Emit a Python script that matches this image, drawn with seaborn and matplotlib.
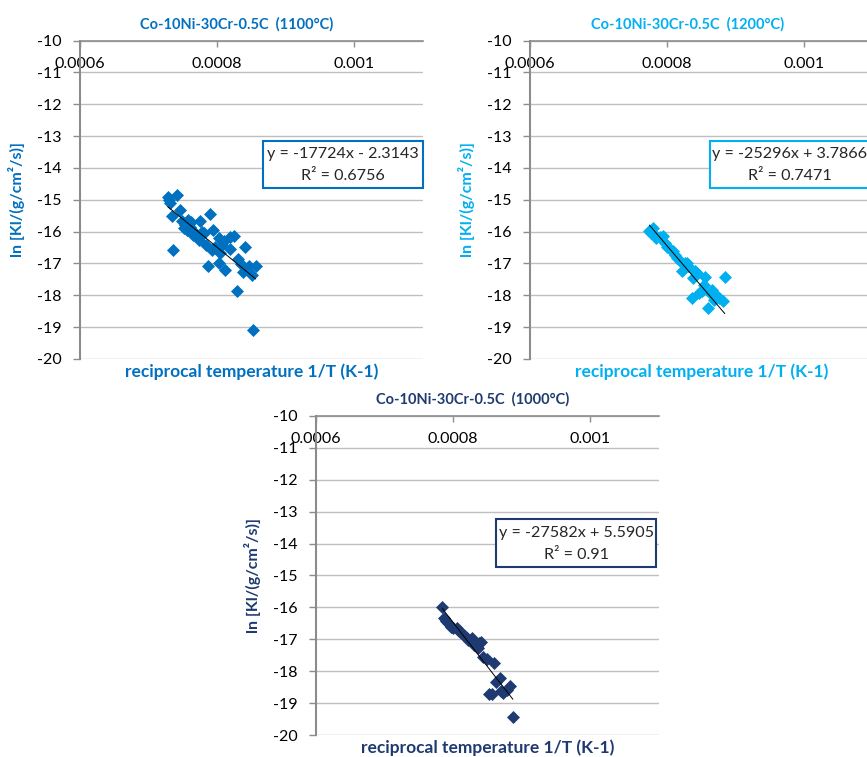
import numpy as np
import pandas as pd
import matplotlib.pyplot as plt
from matplotlib.patches import Rectangle
import seaborn as sns

#%% data (1/T in K-1, ln KI)
x_1100 = [0.000728, 0.000731, 0.000741, 0.000734, 0.000746, 0.000736, 0.000748, 0.000751,
          0.000753, 0.000758, 0.000762, 0.000756, 0.000765, 0.000770, 0.000775, 0.000778,
          0.000773, 0.000781, 0.000789, 0.000784, 0.000786, 0.000792, 0.000794, 0.000797,
          0.000802, 0.000804, 0.000802, 0.000807, 0.000812, 0.000818, 0.000824, 0.000819,
          0.000829, 0.000831, 0.000835, 0.000841, 0.000837, 0.000846, 0.000851, 0.000856,
          0.000852, 0.000730, 0.000760, 0.000768, 0.000810]
y_1100 = [-14.90, -15.10, -14.84, -15.50, -15.31, -16.59, -15.68, -15.89,
          -15.78, -15.63, -15.71, -15.95, -16.10, -16.15, -15.68, -16.00,
          -16.25, -16.05, -15.44, -16.41, -17.07, -16.57, -15.95, -16.47,
          -16.20, -16.67, -16.99, -16.41, -17.22, -16.16, -16.13, -16.55,
          -17.88, -16.86, -17.01, -16.49, -17.28, -17.09, -17.35, -17.09,
          -19.10, -15.00, -15.85, -16.05, -16.30]

x_1200 = [0.000774, 0.000779, 0.000777, 0.000782, 0.000784, 0.000789, 0.000794, 0.000797,
          0.000800, 0.000804, 0.000809, 0.000812, 0.000815, 0.000818, 0.000829, 0.000831,
          0.000822, 0.000838, 0.000843, 0.000841, 0.000855, 0.000854, 0.000836, 0.000847,
          0.000865, 0.000859, 0.000863, 0.000873, 0.000876, 0.000881, 0.000884, 0.000868,
          0.000851, 0.000826]
y_1200 = [-15.99, -15.89, -16.05, -16.10, -16.20, -16.17, -16.13, -16.36,
          -16.49, -16.55, -16.62, -16.73, -16.83, -16.93, -16.99, -17.09,
          -17.25, -17.46, -17.30, -17.25, -17.43, -17.67, -18.09, -17.93,
          -17.82, -18.40, -17.93, -18.01, -18.09, -18.17, -17.43, -18.14,
          -17.88, -17.00]

x_1000 = [0.000784, 0.000787, 0.000790, 0.000793, 0.000797, 0.000800, 0.000805, 0.000808,
          0.000811, 0.000816, 0.000820, 0.000822, 0.000827, 0.000830, 0.000834, 0.000837,
          0.000840, 0.000836, 0.000844, 0.000849, 0.000859, 0.000863, 0.000868, 0.000852,
          0.000856, 0.000873, 0.000878, 0.000883, 0.000887, 0.000870]
y_1000 = [-16.00, -16.34, -16.41, -16.50, -16.60, -16.65, -16.65, -16.73,
          -16.81, -16.86, -16.97, -17.02, -16.97, -17.17, -17.23, -17.12,
          -17.07, -17.28, -17.54, -17.62, -17.73, -18.32, -18.22, -18.71,
          -18.71, -18.69, -18.58, -18.46, -19.44, -18.60]

# trendline equations as printed on the chart
titles = ['Co-10Ni-30Cr-0.5C  (1100°C)', 'Co-10Ni-30Cr-0.5C  (1200°C)', 'Co-10Ni-30Cr-0.5C  (1000°C)']
slopes = [-17724, -25296, -27582]
intercepts = [-2.3143, 3.7866, 5.5905]
eq_labels = ['y = -17724x - 2.3143', 'y = -25296x + 3.7866', 'y = -27582x + 5.5905']
r2_labels = ['R² = 0.6756', 'R² = 0.7471', 'R² = 0.91']
colors = ['#0070C0', '#00B0F0', '#1F3A70']

x_ticks = [0.0006, 0.0008, 0.001]
x_tick_labels = ['0.0006', '0.0008', '0.001']
y_ticks = list(range(-20, -9))

#%% style
sns.set_style('white')
plt.rcParams['font.family'] = ['Lato', 'DejaVu Sans']

fig = plt.figure(figsize=(8.67, 7.57), dpi=100)

# axes rectangles in figure fraction
positions = [[0.0923, 0.5258, 0.3956, 0.4205],
             [0.6113, 0.5258, 0.3956, 0.4205],
             [0.3645, 0.0287, 0.3956, 0.4222]]
# equation box (axes fraction): x0, y0, w, h, line1 y, line2 y
boxes = [[0.534, 0.537, 0.466, 0.148, 0.644, 0.575],
         [0.525, 0.537, 0.466, 0.148, 0.644, 0.575],
         [0.525, 0.528, 0.466, 0.149, 0.632, 0.564]]

datasets = [(x_1100, y_1100), (x_1200, y_1200), (x_1000, y_1000)]

for i in range(3):
    ax = fig.add_axes(positions[i])
    xs, ys = datasets[i]
    df = pd.DataFrame({'inv_T': xs, 'ln_k': ys})
    c = colors[i]

    sns.scatterplot(data=df, x='inv_T', y='ln_k', marker='D', s=44,
                    color=c, edgecolor=c, linewidth=0, ax=ax, zorder=3)

    # linear trendline over the data range
    x_line = np.array([min(xs), max(xs)])
    y_line = slopes[i] * x_line + intercepts[i]
    sns.lineplot(x=x_line, y=y_line, color='black', linewidth=0.7, ax=ax, zorder=4)

    ax.set_xlim(0.0006, 0.0011)
    ax.set_ylim(-20, -10)
    ax.set_yticks(y_ticks)
    ax.set_yticklabels([str(v) for v in y_ticks])
    ax.set_xticks(x_ticks)
    ax.set_xticklabels(x_tick_labels)

    # horizontal axis crosses at the top, labels sit under it
    ax.xaxis.tick_top()
    ax.tick_params(axis='x', direction='in', length=4, width=1, color='#8C8C8C',
                   pad=-22, labelsize=11.5, labelcolor='black')
    ax.tick_params(axis='y', direction='out', length=5, width=1, color='#8C8C8C',
                   pad=8, labelsize=11.5, labelcolor='black', left=True)

    ax.grid(axis='y', color='#BFBFBF', linewidth=1.0)
    ax.grid(axis='x', visible=False)
    for s in ['right', 'bottom']:
        ax.spines[s].set_visible(False)
    ax.spines['top'].set_color('#8C8C8C')
    ax.spines['left'].set_color('#8C8C8C')
    ax.spines['top'].set_linewidth(1.2)
    ax.spines['left'].set_linewidth(1.5)

    ax.set_title(titles[i], x=0.458, pad=9, fontsize=10.5, fontweight='bold', color=c)
    ax.set_xlabel('reciprocal temperature 1/T (K-1)', fontsize=12.5, fontweight='bold', color=c)
    ax.xaxis.set_label_position('bottom')
    ax.xaxis.labelpad = 3
    ax.set_ylabel('ln [Kl/(g/cm²/s)]', fontsize=11.5, fontweight='bold', color=c, labelpad=9)

    bx = boxes[i]
    ax.add_patch(Rectangle((bx[0], bx[1]), bx[2], bx[3], transform=ax.transAxes,
                           facecolor='white', edgecolor=c, linewidth=1.5,
                           clip_on=False, zorder=5))
    ax.text(bx[0] + bx[2] / 2, bx[4], eq_labels[i], transform=ax.transAxes,
            ha='center', va='center', fontsize=11.6, color='#262626', zorder=6)
    ax.text(bx[0] + bx[2] / 2, bx[5], r2_labels[i], transform=ax.transAxes,
            ha='center', va='center', fontsize=11.6, color='#262626', zorder=6)

plt.savefig('out.png', dpi=100)
